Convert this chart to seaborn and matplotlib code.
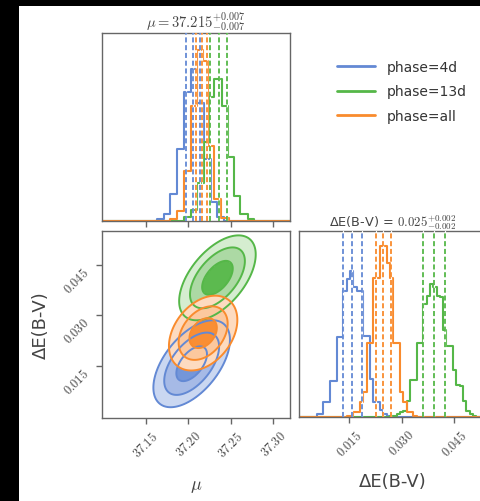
import numpy as np
import pandas as pd
import matplotlib
matplotlib.use("Agg")
import matplotlib.pyplot as plt
import seaborn as sns
from matplotlib.patches import Rectangle
from matplotlib.lines import Line2D
from matplotlib.ticker import FixedLocator, FuncFormatter

# ---------------- data ----------------
series = ["phase=4d", "phase=13d", "phase=all"]
line_colors = {"phase=4d": "#6389d4", "phase=13d": "#55b748", "phase=all": "#f98b2d"}
fill_colors = {  # inner, middle, outer region
    "phase=4d": ["#7496d9", "#a6bae6", "#cad7f1"],
    "phase=13d": ["#5cba4f", "#acd9a4", "#d5edd0"],
    "phase=all": ["#f98e34", "#fcc89e", "#fddbc0"],
}

# mu marginal histograms (bin edges, relative heights)
mu_edges_4d = [37.1634, 37.1712, 37.1791, 37.1870, 37.1948, 37.2027, 37.2106,
               37.2184, 37.2264, 37.2343, 37.2421]
mu_heights_4d = [0.01, 0.037, 0.144, 0.383, 0.684, 0.81, 0.63, 0.33, 0.10, 0.02]
mu_edges_13d = [37.1948, 37.2027, 37.2106, 37.2184, 37.2243, 37.2303, 37.2402,
                37.2468, 37.2532, 37.2610, 37.2697, 37.2775]
mu_heights_13d = [0.02, 0.06, 0.2, 0.42, 0.66, 0.755, 0.61, 0.34, 0.135, 0.037, 0.01]
mu_edges_all = [37.1791, 37.1870, 37.1948, 37.2027, 37.2106, 37.2177, 37.2228,
                37.2303, 37.2382, 37.2480]
mu_heights_all = [0.011, 0.055, 0.267, 0.614, 0.907, 0.85, 0.40, 0.116, 0.018]

# dE(B-V) marginal histograms
de_start_4d, de_start_13d, de_start_all = 0.00568, 0.02663, 0.01425
de_binw = 0.000952
de_heights_4d = [0.016, 0.016, 0.079, 0.079, 0.195, 0.195, 0.428, 0.428, 0.68, 0.74,
                 0.787, 0.70, 0.68, 0.68, 0.437, 0.437, 0.204, 0.079, 0.079, 0.04,
                 0.016, 0.005]
de_heights_all = [0.005, 0.007, 0.029, 0.029, 0.08, 0.133, 0.40, 0.40, 0.745, 0.745,
                  0.92, 0.92, 0.83, 0.745, 0.40, 0.40, 0.133, 0.08, 0.029, 0.029, 0.007]
de_heights_13d = [0.005, 0.007, 0.015, 0.025, 0.03, 0.085, 0.2, 0.2, 0.40, 0.40,
                  0.61, 0.65, 0.715, 0.70, 0.65, 0.645, 0.47, 0.38, 0.38, 0.255,
                  0.17, 0.168, 0.088, 0.034, 0.016, 0.005]

# quantile markers (16/50/84)
mu_quant = {"phase=4d": [37.197, 37.205, 37.2137],
            "phase=13d": [37.226, 37.236, 37.246],
            "phase=all": [37.2086, 37.2165, 37.2224]}
de_quant = {"phase=4d": [0.0131, 0.0157, 0.0186],
            "phase=13d": [0.0361, 0.0391, 0.0423],
            "phase=all": [0.0227, 0.0246, 0.0269]}

# 2D contour shapes: centre mu, centre dE, sd mu, sd dE, correlation
c2d_mu = {"phase=4d": 37.2040, "phase=13d": 37.2343, "phase=all": 37.2175}
c2d_de = {"phase=4d": 0.0156, "phase=13d": 0.0411, "phase=all": 0.0247}
c2d_smu = {"phase=4d": 0.0150, "phase=13d": 0.0150, "phase=all": 0.0134}
c2d_sde = {"phase=4d": 0.0043, "phase=13d": 0.0042, "phase=all": 0.0037}
c2d_rho = {"phase=4d": 0.55, "phase=13d": 0.55, "phase=all": 0.35}
sigma_levels = [1.2, 2.15, 3.0]

mu_ticks = [37.15, 37.20, 37.25, 37.30]
de_ticks = [0.015, 0.030, 0.045]
mu_lim = (37.0986, 37.3196)
de_lim_2d = (-0.0005, 0.055)
de_lim_1d = (0.00063, 0.0544)
title_mu = r"$\mu = 37.215^{+0.007}_{-0.007}$"
title_de = r"ΔE(B-V) = $0.025^{+0.002}_{-0.002}$"

# ---------------- style ----------------
sns.set_style("ticks")
plt.rcParams["font.family"] = ["DejaVu Sans"]
plt.rcParams["mathtext.fontset"] = "cm"
spine_c = "#666666"
text_c = "#444444"

W, H = 480, 502
fig = plt.figure(figsize=(4.8, 5.02), dpi=100)
fig.patch.set_facecolor("black")
fig.add_artist(Rectangle((19 / W, 0), 1 - 19 / W, 1 - 7 / H, transform=fig.transFigure,
                         facecolor="white", edgecolor="none", zorder=-10))


def rect(x0, y0, x1, y1):
    return [x0 / W, 1 - y1 / H, (x1 - x0) / W, (y1 - y0) / H]


ax_mu = fig.add_axes(rect(102, 34, 290, 222))
ax_2d = fig.add_axes(rect(102, 232, 290, 419))
ax_de = fig.add_axes(rect(299, 232, 487, 418))


def step_hist(ax, edges, heights, lo, hi, color):
    e = [float(lo)] + [float(v) for v in edges] + [float(hi)]
    h = [0.0] + [float(v) for v in heights] + [0.0]
    centers = [0.5 * (a + b) for a, b in zip(e[:-1], e[1:])]
    df = pd.DataFrame({"x": centers, "w": h})
    sns.histplot(data=df, x="x", weights="w", bins=e, element="step", fill=False,
                 color=color, linewidth=1.5, ax=ax, zorder=2)


mu_edges = {"phase=4d": mu_edges_4d, "phase=13d": mu_edges_13d, "phase=all": mu_edges_all}
mu_heights = {"phase=4d": mu_heights_4d, "phase=13d": mu_heights_13d, "phase=all": mu_heights_all}
de_heights = {"phase=4d": de_heights_4d, "phase=13d": de_heights_13d, "phase=all": de_heights_all}
de_starts = {"phase=4d": de_start_4d, "phase=13d": de_start_13d, "phase=all": de_start_all}

for s in series:
    c = line_colors[s]
    step_hist(ax_mu, mu_edges[s], mu_heights[s], mu_lim[0], mu_lim[1], c)
    n = len(de_heights[s])
    edges = list(de_starts[s] + de_binw * np.arange(n + 1))
    step_hist(ax_de, edges, de_heights[s], de_lim_1d[0], de_lim_1d[1], c)

for s in series:
    c = line_colors[s]
    for v in mu_quant[s]:
        ax_mu.axvline(v, color="white", lw=0.9, zorder=3)
        ax_mu.axvline(v, color=c, lw=1.3, ls=(0, (2.8, 1.5)), zorder=4)
    for v in de_quant[s]:
        ax_de.axvline(v, color="white", lw=0.9, zorder=3)
        ax_de.axvline(v, color=c, lw=1.3, ls=(0, (2.8, 1.5)), zorder=4)

# 2D contours
gx = np.linspace(mu_lim[0], mu_lim[1], 400)
gy = np.linspace(de_lim_2d[0], de_lim_2d[1], 400)
GX, GY = np.meshgrid(gx, gy)
d2 = {}
for s in series:
    zx = (GX - c2d_mu[s]) / c2d_smu[s]
    zy = (GY - c2d_de[s]) / c2d_sde[s]
    r = c2d_rho[s]
    d2[s] = (zx ** 2 - 2 * r * zx * zy + zy ** 2) / (1 - r ** 2)

lv = [0] + [k ** 2 for k in sigma_levels]
for s in series:
    ax_2d.contourf(GX, GY, d2[s], levels=lv, colors=fill_colors[s], zorder=1)
for s in series:
    ax_2d.contour(GX, GY, d2[s], levels=lv[1:], colors=[line_colors[s]],
                  linewidths=1.4, zorder=2)

# ---------------- axes cosmetics ----------------
fmt2 = FuncFormatter(lambda v, p: rf"${v:.2f}$")
fmt3 = FuncFormatter(lambda v, p: rf"${v:.3f}$")
for ax in (ax_mu, ax_2d, ax_de):
    for sp in ax.spines.values():
        sp.set_visible(True)
        sp.set_color(spine_c)
        sp.set_linewidth(1.0)
    ax.set_xlabel("")
    ax.set_ylabel("")
    ax.tick_params(colors=spine_c, labelcolor=text_c, labelsize=9, length=4, width=1)

ax_mu.set_xlim(mu_lim)
ax_mu.set_ylim(0, 1)
ax_mu.xaxis.set_major_locator(FixedLocator(mu_ticks))
ax_mu.set_xticklabels([])
ax_mu.set_yticks([])
ax_mu.set_title(title_mu, fontsize=10.5, pad=2, color=text_c)

ax_2d.set_xlim(mu_lim)
ax_2d.set_ylim(de_lim_2d)
ax_2d.xaxis.set_major_locator(FixedLocator(mu_ticks))
ax_2d.yaxis.set_major_locator(FixedLocator(de_ticks))
ax_2d.xaxis.set_major_formatter(fmt2)
ax_2d.yaxis.set_major_formatter(fmt3)
for lab in ax_2d.get_xticklabels():
    lab.set_rotation(45)
for lab in ax_2d.get_yticklabels():
    lab.set_rotation(45)
    lab.set_va("top")
ax_2d.set_xlabel(r"$\mu$", fontsize=13, color=text_c, labelpad=12)
ax_2d.set_ylabel("ΔE(B-V)", fontsize=13, color=text_c, labelpad=8)

ax_de.set_xlim(de_lim_1d)
ax_de.set_ylim(0, 1)
ax_de.xaxis.set_major_locator(FixedLocator(de_ticks))
ax_de.xaxis.set_major_formatter(fmt3)
for lab in ax_de.get_xticklabels():
    lab.set_rotation(45)
ax_de.set_yticks([])
ax_de.set_xlabel("ΔE(B-V)", fontsize=13, color=text_c, labelpad=10)
ax_de.set_title(title_de, fontsize=9.3, pad=2, color=text_c)

handles = [Line2D([], [], color=line_colors[s], lw=2) for s in series]
leg = fig.legend(handles, series, loc="upper left", bbox_to_anchor=(337 / W, 1 - 61 / H),
                 frameon=False, fontsize=10, handlelength=2.7, handletextpad=0.9,
                 labelspacing=0.75, borderpad=0, borderaxespad=0)
for t in leg.get_texts():
    t.set_color("#333333")

fig.savefig("out.png", dpi=100, facecolor=fig.get_facecolor())
